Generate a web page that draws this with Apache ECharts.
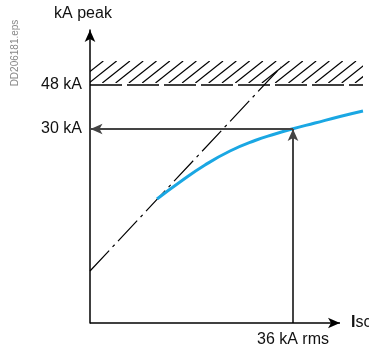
<!DOCTYPE html>
<html>
<head>
<meta charset="utf-8">
<script src="https://cdn.jsdelivr.net/npm/echarts@6/dist/echarts.min.js"></script>
<style>html,body{margin:0;padding:0;background:#fff}#c{width:369px;height:349px}</style>
</head>
<body>
<div id="c"></div>
<script>
// Schematic units (the original is a qualitative diagram)
const yTickValues = [238, 194];
const yTickLabels = ['48 kA', '30 kA'];
const xTickValues = [203];
const xTickLabels = ['36 kA rms'];
const yAxisName = 'kA peak';
const xAxisName = 'Isc';
const sideNote = 'DD206181.eps';
const xAxisEnd = 250;
// asymptotic (peak without limitation) dash-dot line
const asymX = [0, 191];
const asymY = [52, 256];
// limited peak current curve
const curveX = [67, 90, 115, 140, 165, 185, 202, 225, 250, 273];
const curveY = [124, 141, 158, 172, 182.5, 189, 194, 200, 206.5, 212];
// hatched forbidden zone [xStart, yBottom, xEnd, yTop]
const zone = [0, 238, 273, 262];
// reading arrows
const readX = 203, readY = 194;

const chart = echarts.init(document.getElementById('c'), null, {renderer: 'canvas'});
const font = "'Liberation Sans', Arial, Helvetica, sans-serif";

chart.setOption({
  animation: false,
  grid: {left: 90, right: 0, top: 30, bottom: 26},
  xAxis: {
    type: 'value', min: 0, max: 279,
    axisLine: {show: false},
    axisTick: {show: false}, splitLine: {show: false},
    axisLabel: {customValues: xTickValues, formatter: v => xTickLabels[xTickValues.indexOf(v)] || '',
      color: '#111', fontFamily: font, fontSize: 16, margin: 9}
  },
  yAxis: {
    type: 'value', min: 0, max: 293,
    axisLine: {show: true, symbol: ['none', 'arrow'], symbolSize: [8, 12], lineStyle: {color: '#000', width: 1.5}},
    axisTick: {show: false}, splitLine: {show: false},
    axisLabel: {customValues: yTickValues, formatter: v => yTickLabels[yTickValues.indexOf(v)] || '',
      color: '#111', fontFamily: font, fontSize: 16, margin: 8},
    name: yAxisName, nameLocation: 'end', nameGap: 8,
    nameTextStyle: {fontFamily: font, fontSize: 16, color: '#111', padding: [0, 14, 0, 0]}
  },
  graphic: [{
    type: 'text', x: 15, y: 53, rotation: Math.PI / 2,
    style: {text: sideNote, fill: '#888', font: '10px ' + font, align: 'center', verticalAlign: 'middle'}
  }],
  series: [
    {
      type: 'custom', clip: false, silent: true,
      data: [zone],
      renderItem: function (params, api) {
        const tl = api.coord([api.value(0), api.value(3)]);
        const br = api.coord([api.value(2), api.value(1)]);
        const w = br[0] - tl[0], h = br[1] - tl[1];
        const run = h * 1.15, step = 13.3;
        const lines = [];
        for (let bx = tl[0] - run; bx < br[0] + step; bx += step) {
          lines.push({type: 'line', shape: {x1: bx, y1: br[1] - 2, x2: bx + run, y2: tl[1]},
            style: {stroke: '#000', lineWidth: 1.2}});
        }
        return {type: 'group', children: [
          {type: 'group', children: lines,
            clipPath: {type: 'rect', shape: {x: tl[0], y: tl[1], width: w, height: h - 2}}},
          {type: 'line', shape: {x1: tl[0], y1: br[1], x2: br[0], y2: br[1]},
            style: {stroke: '#000', lineWidth: 1.5, lineDash: [32, 5]}}
        ]};
      }
    },
    {
      type: 'line', clip: false, silent: true, symbol: 'none',
      data: asymX.map((x, i) => [x, asymY[i]]),
      lineStyle: {color: '#000', width: 1.2, type: [28, 5, 3, 5]}
    },
    {
      type: 'line', clip: false, silent: true, symbol: 'none', smooth: 0.5,
      data: curveX.map((x, i) => [x, curveY[i]]),
      lineStyle: {color: '#1aa7e3', width: 3}
    },
    {
      type: 'line', data: [], silent: true,
      markLine: {
        silent: true, symbol: ['none', 'arrow'], symbolSize: [8, 12],
        label: {show: false},
        lineStyle: {color: '#444', width: 2, type: 'solid'},
        data: [
          [{coord: [readX, 0]}, {coord: [readX, readY]}],
          [{coord: [readX, readY]}, {coord: [0.5, readY]}]
        ]
      }
    },
    {
      type: 'line', data: [], silent: true,
      markLine: {
        silent: true, symbol: ['none', 'arrow'], symbolSize: [8, 12],
        lineStyle: {color: '#000', width: 1.5, type: 'solid'},
        label: {show: true, position: 'end', distance: 11, formatter: '{b|I}sc',
          color: '#111', fontFamily: font, fontSize: 16,
          rich: {b: {fontWeight: 'bold', fontFamily: font, fontSize: 16, color: '#111'}}},
        data: [
          [{coord: [0, 0]}, {coord: [xAxisEnd, 0]}]
        ]
      }
    }
  ]
});
</script>
</body>
</html>
